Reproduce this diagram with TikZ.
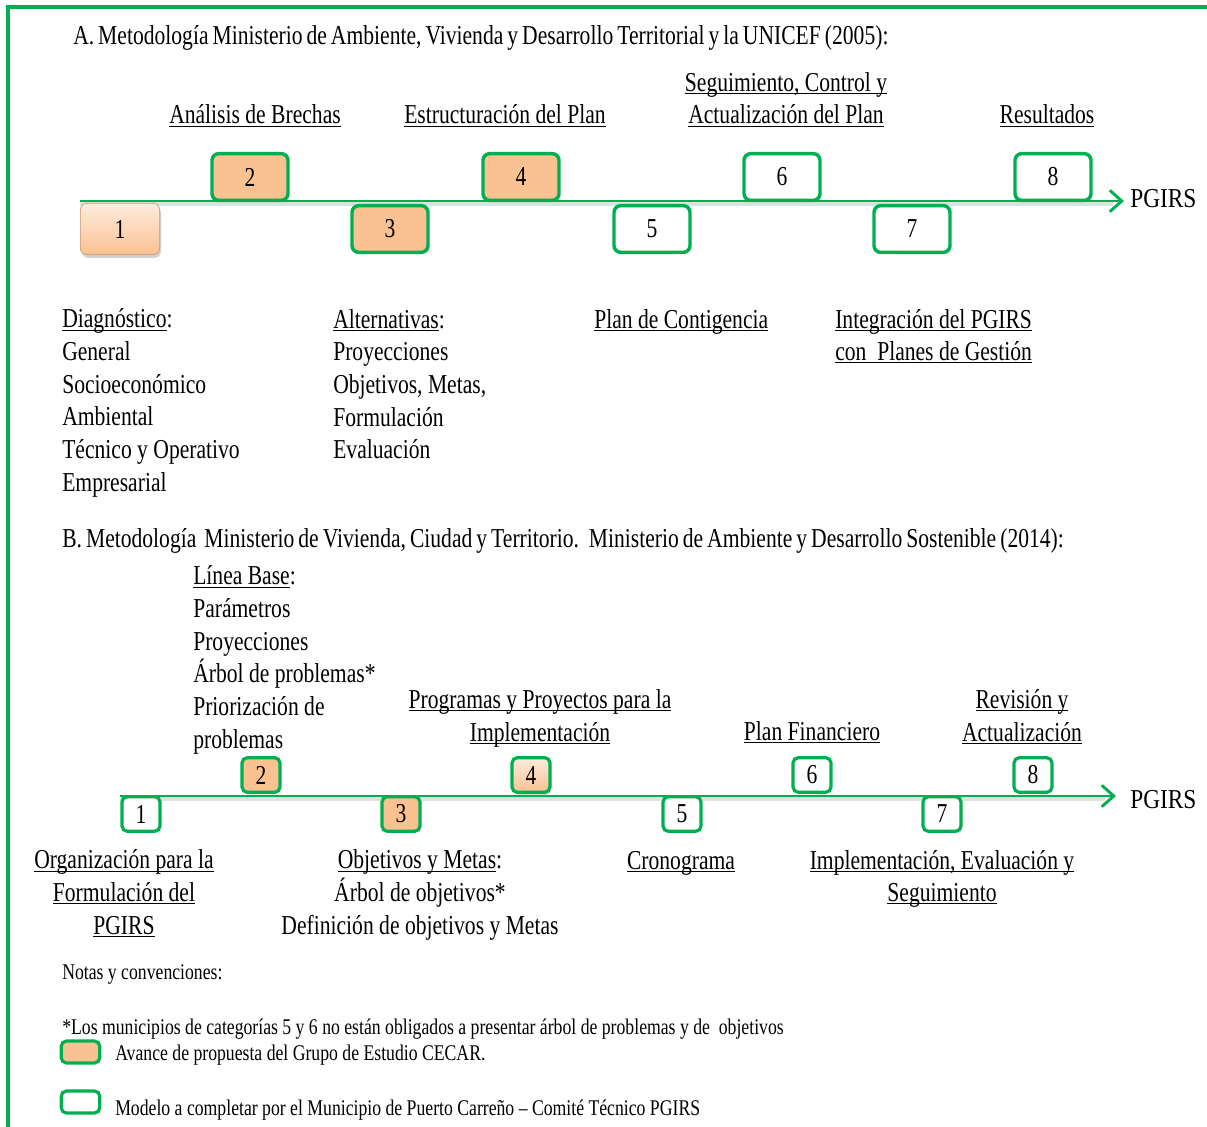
\documentclass[tikz,border=0pt]{standalone}
\usepackage{fontspec}
\setmainfont{Liberation Serif}[FakeStretch=0.79]
\usetikzlibrary{arrows.meta,shadows}

\definecolor{pgirsgreen}{RGB}{0,176,80}
\definecolor{cecarorange}{RGB}{250,193,145}
\definecolor{cecarpale}{RGB}{254,236,222}

\newcommand{\ulx}[1]{\underline{\smash{#1}}}
\newcommand{\tightspace}{\spaceskip=3pt plus 1pt minus 1pt\relax}

\tikzset{
  txt/.style={font=\fontsize{20.5}{24.5}\selectfont, inner sep=0pt},
  titletxt/.style={font=\fontsize{20.5}{24.5}\selectfont\tightspace,
    inner sep=0pt, anchor=base west},
  notetxt/.style={font=\fontsize{16.8}{18}\selectfont, inner sep=0pt},
  bigstep/.style={draw=pgirsgreen, line width=2.6pt, rounded corners=5pt,
    minimum width=57pt, minimum height=35pt, inner sep=0pt,
    font=\fontsize{20.5}{24.5}\selectfont},
  smallstep/.style={draw=pgirsgreen, line width=2.4pt, rounded corners=4pt,
    minimum width=28.5pt, minimum height=26pt, inner sep=0pt,
    font=\fontsize{20.5}{24.5}\selectfont},
  cecar/.style={fill=cecarorange},
  gradfill/.style={top color=cecarpale, bottom color=cecarorange},
  timeline/.style={draw=pgirsgreen, line width=2.2pt,
    -{Straight Barb[length=9pt,width=16pt]}},
  lineshadow/.style={draw=black, opacity=0.12, line width=2.5pt},
}

\begin{document}
\begin{tikzpicture}[x=0.75pt, y=-0.75pt]

  \useasboundingbox (0,0) rectangle (1207,1127);

  % frame
  \draw[pgirsgreen, line width=2.3pt] (1207,7) -- (8,7) -- (8,1127);

  % ---- A ----
  \node[titletxt] (titA) at (73,45)
    {A. Metodología Ministerio de Ambiente, Vivienda y Desarrollo Territorial y la UNICEF (2005):};

  % multi-line nodes: base = last line
  \begin{scope}[every node/.style={txt, anchor=base, align=center}]
    \node (brechas) at (255,124) {\ulx{Análisis de Brechas}};
    \node (estruct) at (505,124) {\ulx{Estructuración del Plan}};
    \node (seguim)  at (786,124) {\ulx{Seguimiento, Control y}\\\ulx{Actualización del Plan}};
    \node (result)  at (1047,124) {\ulx{Resultados}};
  \end{scope}

  \coordinate (astart) at (80,201);
  \coordinate (aend)   at (1124,201);
  \draw[lineshadow] ([yshift=-2.2pt]astart) -- ([yshift=-2.2pt,xshift=-8pt]aend);

  \begin{scope}[every node/.style={bigstep}]
    \node[gradfill, draw=cecarorange!80!black, line width=0.5pt,
      minimum width=59.5pt, minimum height=38.5pt,
      drop shadow={opacity=0.35, shadow xshift=1pt, shadow yshift=-2.5pt}] (a1) at (120,229) {1};
    \node[cecar] (a2) at (250,177) {2};
    \node[cecar] (a3) at (390,229) {3};
    \node[cecar] (a4) at (521,177) {4};
    \node[fill=white] (a5) at (652,229) {5};
    \node[fill=white] (a6) at (782,177) {6};
    \node[fill=white] (a7) at (912,229) {7};
    \node[fill=white] (a8) at (1053,177) {8};
  \end{scope}

  \draw[timeline] (astart) -- (aend);
  \node[txt, anchor=base west, xscale=1.08] (apgirs) at (1130,208) {PGIRS};

  \begin{scope}[every node/.style={txt, anchor=base west, align=left}]
    \node (diag) at (62,491.3)
      {\ulx{Diagnóstico}:\\General\\Socioeconómico\\Ambiental\\Técnico y Operativo\\Empresarial};
    \node (altern) at (333,458.7)
      {\ulx{Alternativas}:\\Proyecciones\\Objetivos, Metas,\\Formulación\\Evaluación};
    \node (conting) at (594,328) {\ulx{Plan de Contigencia}};
    \node (integr) at (835,360.7)
      {\ulx{Integración del PGIRS}\\\ulx{con~ Planes de Gestión}};
  \end{scope}

  % ---- B ----
  \node[titletxt] (titB) at (62,547)
    {B. Metodología~ Ministerio de Vivienda, Ciudad y Territorio.~ Ministerio de Ambiente y Desarrollo Sostenible (2014):};

  \node[txt, anchor=base west, align=left] (lbase) at (193,748.3)
    {\ulx{Línea Base}:\\Parámetros\\Proyecciones\\Árbol de problemas*\\Priorización de\\problemas};

  \begin{scope}[every node/.style={txt, anchor=base, align=center}]
    \node (program) at (540,741) {\ulx{Programas y Proyectos para la}\\\ulx{Implementación}};
    \node (financ)  at (812,740) {\ulx{Plan Financiero}};
    \node (revis)   at (1022,741) {\ulx{Revisión y}\\\ulx{Actualización}};
  \end{scope}

  \coordinate (bstart) at (120,796);
  \coordinate (bend)   at (1116,796);
  \draw[lineshadow] ([yshift=-2.2pt]bstart) -- ([yshift=-2.2pt,xshift=-8pt]bend);

  \begin{scope}[every node/.style={smallstep}]
    \node[fill=white] (b1) at (141,814) {1};
    \node[cecar] (b2) at (261,775) {2};
    \node[cecar] (b3) at (401,814) {3};
    \node[gradfill, drop shadow={opacity=0.3, shadow xshift=1pt, shadow yshift=-2pt}] (b4) at (531,775) {4};
    \node[fill=white] (b5) at (682,814) {5};
    \node[fill=white] (b6) at (812,775) {6};
    \node[fill=white] (b7) at (942,814) {7};
    \node[fill=white] (b8) at (1033,775) {8};
  \end{scope}

  \draw[timeline] (bstart) -- (bend);
  \node[txt, anchor=base west, xscale=1.08] (bpgirs) at (1130,808) {PGIRS};

  \begin{scope}[every node/.style={txt, anchor=base, align=center}]
    \node (organiz) at (124,934.3) {\ulx{Organización para la}\\\ulx{Formulación del}\\\ulx{PGIRS}};
    \node (objet)   at (420,934.3) {\ulx{Objetivos y Metas}:\\Árbol de objetivos*\\Definición de objetivos y Metas};
    \node (cronog)  at (681,869) {\ulx{Cronograma}};
    \node (implem)  at (942,901.7) {\ulx{Implementación, Evaluación y}\\\ulx{Seguimiento}};
  \end{scope}

  % ---- notas ----
  \begin{scope}[every node/.style={notetxt, anchor=base west}]
    \node (notas) at (62,979) {Notas y convenciones:};
    \node (asterisco) at (62,1034) {*Los municipios de categorías 5 y 6 no están obligados a presentar árbol de problemas y de~ objetivos};
    \node (avance) at (115,1060) {Avance de propuesta del Grupo de Estudio CECAR.};
    \node (modelo) at (115,1115) {Modelo a completar por el Municipio de Puerto Carreño – Comité Técnico PGIRS};
  \end{scope}

  \node[smallstep, cecar, minimum width=29pt, minimum height=16.5pt] (legA) at (80.5,1052) {};
  \node[smallstep, fill=white, minimum width=29pt, minimum height=16.5pt] (legB) at (80.5,1102) {};

\end{tikzpicture}
\end{document}
